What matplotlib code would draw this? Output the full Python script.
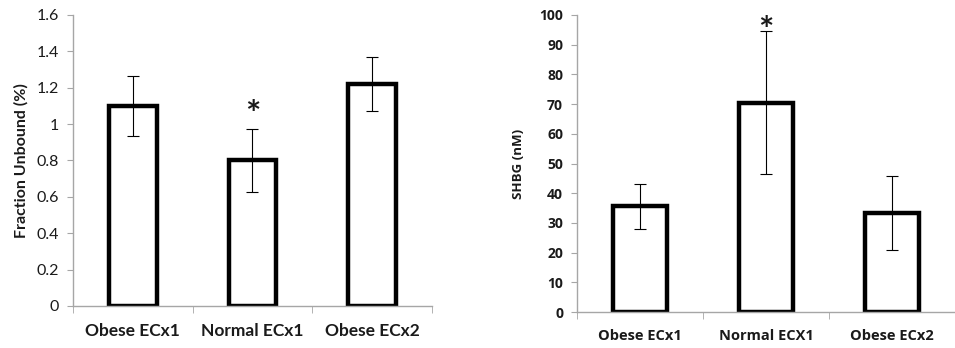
import numpy as np
import matplotlib
matplotlib.use("Agg")
import matplotlib.pyplot as plt

plt.rcParams['font.family'] = ['Lato', 'DejaVu Sans']

# left panel: fraction unbound
groups_left = ['Obese ECx1', 'Normal ECx1', 'Obese ECx2']
fraction_unbound = [1.10, 0.80, 1.22]
fraction_err = [0.167, 0.173, 0.148]
left_ticks = [0, 0.2, 0.4, 0.6, 0.8, 1, 1.2, 1.4, 1.6]
left_ticklabels = ['0', '0.2', '0.4', '0.6', '0.8', '1', '1.2', '1.4', '1.6']

# right panel: SHBG
groups_right = ['Obese ECx1', 'Normal ECX1', 'Obese ECx2']
shbg = [35.6, 70.5, 33.3]
shbg_err = [7.6, 24.2, 12.5]
right_ticks = [0, 10, 20, 30, 40, 50, 60, 70, 80, 90, 100]

# significance markers (index, y position)
star_left = (1, 1.05)
star_right = (1, 94.5)

text_col = '#1a1a1a'
spine_col = '#a6a6a6'

fig = plt.figure(figsize=(9.55, 3.48), dpi=100)
ax1 = fig.add_axes([0.0764, 0.1207, 0.3759, 0.8362])
ax2 = fig.add_axes([0.6042, 0.1034, 0.3958, 0.8535])


def style_axis(ax, ncat):
    for side in ['top', 'right']:
        ax.spines[side].set_visible(False)
    for side in ['left', 'bottom']:
        ax.spines[side].set_color(spine_col)
        ax.spines[side].set_linewidth(1.0)
    ax.set_xlim(-0.5, ncat - 0.5)
    # category boundary ticks on x
    ax.set_xticks(np.arange(ncat + 1) - 0.5, minor=True)
    ax.tick_params(axis='x', which='minor', length=5, color=spine_col, direction='out')
    ax.tick_params(axis='x', which='major', length=0)
    ax.tick_params(axis='y', length=4, color=spine_col, direction='out')


x = np.arange(len(groups_left))
ax1.bar(x, fraction_unbound, width=0.4, color='white', edgecolor='black',
        linewidth=3.2, zorder=2)
ax1.errorbar(x, fraction_unbound, yerr=fraction_err, fmt='none', ecolor='black',
             elinewidth=0.8, capsize=4, capthick=0.8, zorder=3)
style_axis(ax1, len(groups_left))
ax1.set_ylim(0, 1.6)
ax1.set_yticks(left_ticks)
ax1.set_yticklabels(left_ticklabels, fontsize=11.5, color=text_col)
ax1.set_xticks(x)
ax1.set_xticklabels(groups_left, fontsize=12.5, fontweight='bold', color=text_col)
ax1.tick_params(axis='x', which='major', pad=12)
ax1.tick_params(axis='y', pad=6)
ax1.set_ylabel('Fraction Unbound (%)', fontsize=11.5, fontweight='bold',
               color=text_col, labelpad=6)
ax1.text(star_left[0], star_left[1], '*', ha='center', va='center',
         fontsize=26, fontweight='bold', color=text_col)

x2 = np.arange(len(groups_right))
ax2.bar(x2, shbg, width=0.43, color='white', edgecolor='black',
        linewidth=3.2, zorder=2)
ax2.errorbar(x2, shbg, yerr=shbg_err, fmt='none', ecolor='black',
             elinewidth=0.8, capsize=4, capthick=0.8, zorder=3)
style_axis(ax2, len(groups_right))
ax2.set_ylim(0, 100)
ax2.set_yticks(right_ticks)
ax2.set_yticklabels([str(t) for t in right_ticks], fontsize=10,
                    fontweight='bold', color=text_col,
                    family=['Open Sans', 'DejaVu Sans'])
ax2.set_xticks(x2)
ax2.set_xticklabels(groups_right, fontsize=10.5, fontweight='bold', color=text_col,
                    family=['Open Sans', 'DejaVu Sans'])
ax2.tick_params(axis='x', which='major', pad=12)
ax2.tick_params(axis='y', pad=6)
ax2.set_ylabel('SHBG (nM)', fontsize=9.5, fontweight='bold', color=text_col,
               labelpad=10, family=['Open Sans', 'DejaVu Sans'])
ax2.text(star_right[0], star_right[1], '*', ha='center', va='center',
         fontsize=26, fontweight='bold', color=text_col)

fig.savefig('out.png', dpi=100)
